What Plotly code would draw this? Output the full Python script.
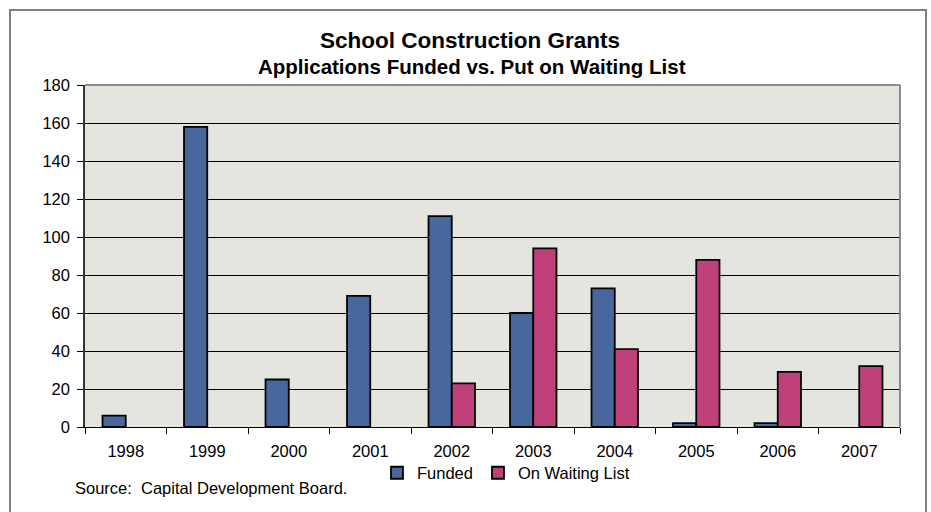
import plotly.graph_objects as go

# Grant applications per year
years = ["1998", "1999", "2000", "2001", "2002", "2003", "2004", "2005", "2006", "2007"]
funded = [6, 158, 25, 69, 111, 60, 73, 2, 2, 0]
waiting_list = [0, 0, 0, 0, 23, 94, 41, 88, 29, 32]
y_ticks = [0, 20, 40, 60, 80, 100, 120, 140, 160, 180]

FONT = "Liberation Sans, Arial, sans-serif"
BLUE = "#48679D"
MAGENTA = "#C0407A"

# Plot-area geometry in page pixels (used to place frame/annotations in paper units)
W, H = 931, 512
L, R, T, B = 85, 31, 85, 85
PW, PH = W - L - R, H - T - B


def px_x(x):
    return (x - L) / PW


def px_y(y):
    return (H - B - y) / PH


def drawn(values):
    # a zero count leaves an empty slot rather than an outlined sliver on the baseline
    return [v if v else None for v in values]


fig = go.Figure()
fig.add_trace(go.Bar(
    x=years, y=drawn(funded), name="Funded",
    marker=dict(color=BLUE, line=dict(color="#000000", width=1.8)),
))
fig.add_trace(go.Bar(
    x=years, y=drawn(waiting_list), name="On Waiting List",
    marker=dict(color=MAGENTA, line=dict(color="#000000", width=1.8)),
))

fig.update_layout(
    width=W, height=H,
    margin=dict(l=L, r=R, t=T, b=B, pad=0),
    paper_bgcolor="#FFFFFF",
    plot_bgcolor="#E5E5E0",
    barmode="group",
    bargap=0.43,
    bargroupgap=0,
    font=dict(family=FONT, size=16.5, color="#000000"),
    showlegend=True,
    legend=dict(
        orientation="h", x=px_x(506), xanchor="center", y=px_y(473), yanchor="middle",
        font=dict(family=FONT, size=16.5, color="#000000"),
        bgcolor="rgba(0,0,0,0)", traceorder="normal",
    ),
    xaxis=dict(
        type="category", range=[-0.5, 9.5],
        showline=True, linecolor="#000000", linewidth=1,
        ticks="outside", tickson="boundaries", ticklen=6, tickcolor="#000000",
        ticklabelstandoff=9,
        showgrid=False, tickfont=dict(family=FONT, size=16.5),
        fixedrange=True,
    ),
    yaxis=dict(
        range=[0, 180], tickvals=y_ticks,
        showline=True, linecolor="#333333", linewidth=1.5,
        ticks="outside", ticklen=6, tickcolor="#000000",
        ticklabelstandoff=4,
        showgrid=True, gridcolor="#000000", gridwidth=1,
        zeroline=False, tickfont=dict(family=FONT, size=16.5),
        fixedrange=True,
    ),
    shapes=[
        # outer chart frame
        dict(type="rect", xref="paper", yref="paper",
             x0=px_x(10), x1=px_x(926), y0=px_y(530), y1=px_y(10),
             line=dict(color="#808080", width=2), fillcolor="rgba(0,0,0,0)", layer="below"),
        # top and right border of the plot area
        dict(type="line", xref="paper", yref="paper", x0=0, x1=1, y0=1, y1=1,
             line=dict(color="#8C8C8C", width=2)),
        dict(type="line", xref="paper", yref="paper", x0=1, x1=1, y0=0, y1=1,
             line=dict(color="#8C8C8C", width=2)),
    ],
    annotations=[
        dict(text="<b>School Construction Grants</b>", xref="paper", yref="paper",
             x=px_x(470), y=px_y(40), xanchor="center", yanchor="middle", showarrow=False,
             font=dict(family=FONT, size=22.5, color="#000000")),
        dict(text="<b>Applications Funded vs. Put on Waiting List</b>", xref="paper", yref="paper",
             x=px_x(472), y=px_y(66), xanchor="center", yanchor="middle", showarrow=False,
             font=dict(family=FONT, size=20.5, color="#000000")),
        dict(text="Source:  Capital Development Board.", xref="paper", yref="paper",
             x=px_x(73), y=px_y(488), xanchor="left", yanchor="middle", showarrow=False,
             font=dict(family=FONT, size=16.5, color="#000000")),
    ],
)

fig.write_html("out.html")
